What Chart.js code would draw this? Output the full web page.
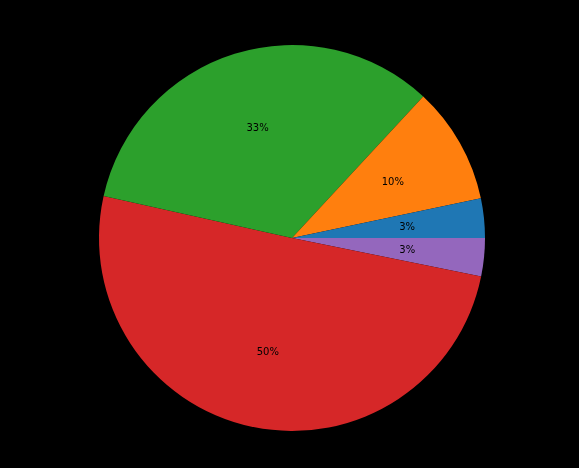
<!DOCTYPE html>
<html>
<head>
<meta charset="utf-8">
<script src="https://cdn.jsdelivr.net/npm/chart.js@4"></script>
<style>
html,body{margin:0;padding:0;background:#000;}
#wrap{width:579px;height:468px;}
</style>
</head>
<body>
<div id="wrap"><canvas id="c" width="579" height="468"></canvas></div>
<script>
// Slices in matplotlib order (counter-clockwise from 3 o'clock)
const categories = ["A", "B", "C", "D", "E"];
const values = [3.3, 9.8, 33.4, 50.3, 3.2];
const colors = ["#1f77b4", "#ff7f0e", "#2ca02c", "#d62728", "#9467bd"];

// Chart.js draws clockwise, so reverse to get counter-clockwise order
const cjLabels = categories.slice().reverse();
const cjValues = values.slice().reverse();
const cjColors = colors.slice().reverse();

const pctLabels = {
  id: 'pctLabels',
  afterDatasetsDraw(chart) {
    const ctx = chart.ctx;
    const meta = chart.getDatasetMeta(0);
    const data = chart.data.datasets[0].data;
    const total = data.reduce((a, b) => a + b, 0);
    ctx.save();
    ctx.font = '10px "DejaVu Sans"';
    ctx.fillStyle = '#000';
    ctx.textAlign = 'center';
    ctx.textBaseline = 'middle';
    meta.data.forEach((arc, i) => {
      const p = arc.getProps(['x', 'y', 'startAngle', 'endAngle', 'outerRadius'], true);
      const mid = (p.startAngle + p.endAngle) / 2;
      const r = p.outerRadius * 0.6;
      const x = p.x + Math.cos(mid) * r;
      const y = p.y + Math.sin(mid) * r + 1;
      ctx.fillText(Math.round(data[i] / total * 100) + '%', x, y);
    });
    ctx.restore();
  }
};

new Chart(document.getElementById('c'), {
  type: 'pie',
  data: {
    labels: cjLabels,
    datasets: [{
      data: cjValues,
      backgroundColor: cjColors,
      borderWidth: 0,
      hoverOffset: 0
    }]
  },
  options: {
    responsive: false,
    animation: false,
    devicePixelRatio: 1,
    rotation: 90,
    layout: { padding: { left: 99, right: 94, top: 45, bottom: 37 } },
    plugins: {
      legend: { display: false },
      tooltip: { enabled: false },
      title: { display: false }
    },
    events: []
  },
  plugins: [pctLabels]
});
</script>
</body>
</html>
